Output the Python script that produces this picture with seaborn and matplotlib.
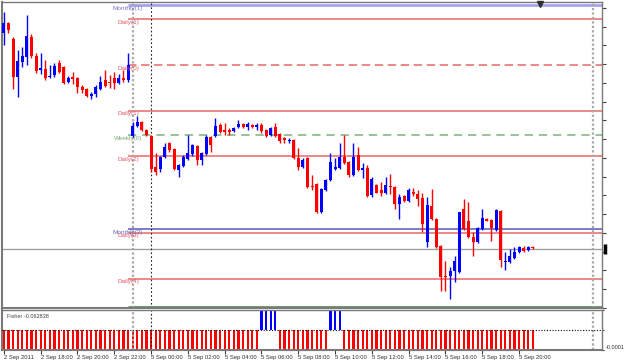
import numpy as np
import pandas as pd
import matplotlib
matplotlib.use("Agg")
import matplotlib.pyplot as plt
import matplotlib.transforms as mtransforms
import seaborn as sns

# ---------------- data ----------------
open_ = [1.4267, 1.4277, 1.4261, 1.4223, 1.4238, 1.4243, 1.4263, 1.4244, 1.4230, 1.4231,
         1.4223, 1.4225, 1.4237, 1.4233, 1.4218, 1.4223, 1.4222, 1.4213, 1.4211, 1.4204,
         1.4206, 1.4211, 1.4220, 1.4218, 1.4222, 1.4217, 1.4222, 1.4220, 1.4164, 1.4174,
         1.4178, 1.4170, 1.4164, 1.4133, 1.4131, 1.4143, 1.4157, 1.4151, 1.4130, 1.4134,
         1.4141, 1.4146, 1.4154, 1.4140, 1.4146, 1.4163, 1.4164, 1.4175, 1.4170, 1.4170,
         1.4169, 1.4173, 1.4176, 1.4173, 1.4175, 1.4173, 1.4175, 1.4170, 1.4165, 1.4173,
         1.4166, 1.4162, 1.4159, 1.4160, 1.4142, 1.4133, 1.4142, 1.4114, 1.4116, 1.4087,
         1.4110, 1.4120, 1.4131, 1.4132, 1.4143, 1.4138, 1.4125, 1.4145, 1.4130, 1.4132,
         1.4104, 1.4115, 1.4110, 1.4107, 1.4114, 1.4113, 1.4095, 1.4103, 1.4098, 1.4108,
         1.4105, 1.4101, 1.4057, 1.4093, 1.4080, 1.4053, 1.4023, 1.4023, 1.4028, 1.4027,
         1.4090, 1.4078, 1.4062, 1.4057, 1.4070, 1.4080, 1.4079, 1.4069, 1.4088, 1.4037,
         1.4037, 1.4041, 1.4047, 1.4051, 1.4049, 1.4052]
high = [1.4288, 1.4278, 1.4263, 1.4250, 1.4253, 1.4285, 1.4266, 1.4247, 1.4247, 1.4240,
        1.4235, 1.4237, 1.4240, 1.4234, 1.4224, 1.4228, 1.4223, 1.4215, 1.4212, 1.4208,
        1.4215, 1.4224, 1.4230, 1.4225, 1.4228, 1.4226, 1.4230, 1.4247, 1.4178, 1.4184,
        1.4179, 1.4171, 1.4165, 1.4147, 1.4144, 1.4157, 1.4158, 1.4152, 1.4136, 1.4145,
        1.4165, 1.4156, 1.4155, 1.4148, 1.4165, 1.4164, 1.4182, 1.4177, 1.4177, 1.4172,
        1.4173, 1.4180, 1.4177, 1.4178, 1.4176, 1.4177, 1.4177, 1.4171, 1.4173, 1.4177,
        1.4167, 1.4163, 1.4162, 1.4161, 1.4152, 1.4142, 1.4143, 1.4125, 1.4117, 1.4112,
        1.4121, 1.4147, 1.4142, 1.4157, 1.4165, 1.4139, 1.4157, 1.4153, 1.4137, 1.4135,
        1.4123, 1.4116, 1.4118, 1.4123, 1.4126, 1.4114, 1.4105, 1.4104, 1.4112, 1.4112,
        1.4110, 1.4107, 1.4102, 1.4111, 1.4081, 1.4054, 1.4038, 1.4032, 1.4043, 1.4087,
        1.4100, 1.4097, 1.4067, 1.4072, 1.4090, 1.4081, 1.4080, 1.4090, 1.4089, 1.4047,
        1.4050, 1.4052, 1.4053, 1.4053, 1.4053, 1.4053]
low = [1.4255, 1.4267, 1.4211, 1.4203, 1.4233, 1.4235, 1.4242, 1.4227, 1.4226, 1.4220,
       1.4222, 1.4223, 1.4227, 1.4216, 1.4217, 1.4216, 1.4207, 1.4207, 1.4203, 1.4201,
       1.4203, 1.4210, 1.4213, 1.4212, 1.4211, 1.4216, 1.4218, 1.4218, 1.4163, 1.4173,
       1.4169, 1.4164, 1.4128, 1.4125, 1.4128, 1.4142, 1.4148, 1.4130, 1.4123, 1.4133,
       1.4140, 1.4144, 1.4135, 1.4135, 1.4145, 1.4148, 1.4163, 1.4167, 1.4165, 1.4165,
       1.4168, 1.4172, 1.4172, 1.4170, 1.4172, 1.4170, 1.4167, 1.4163, 1.4164, 1.4163,
       1.4157, 1.4157, 1.4157, 1.4141, 1.4130, 1.4132, 1.4112, 1.4110, 1.4086, 1.4086,
       1.4109, 1.4119, 1.4130, 1.4131, 1.4136, 1.4123, 1.4124, 1.4129, 1.4122, 1.4102,
       1.4102, 1.4106, 1.4103, 1.4105, 1.4105, 1.4090, 1.4080, 1.4097, 1.4097, 1.4103,
       1.4093, 1.4067, 1.4052, 1.4079, 1.4051, 1.4008, 1.4008, 1.4000, 1.4017, 1.4026,
       1.4069, 1.4061, 1.4043, 1.4056, 1.4069, 1.4078, 1.4058, 1.4068, 1.4032, 1.4029,
       1.4036, 1.4040, 1.4046, 1.4047, 1.4048, 1.4050]
close = [1.4277, 1.4270, 1.4223, 1.4239, 1.4244, 1.4264, 1.4244, 1.4229, 1.4232, 1.4222,
         1.4224, 1.4234, 1.4228, 1.4217, 1.4222, 1.4221, 1.4213, 1.4210, 1.4204, 1.4206,
         1.4213, 1.4218, 1.4214, 1.4217, 1.4217, 1.4222, 1.4220, 1.4235, 1.4174, 1.4178,
         1.4170, 1.4165, 1.4131, 1.4128, 1.4143, 1.4153, 1.4150, 1.4131, 1.4135, 1.4143,
         1.4147, 1.4155, 1.4140, 1.4147, 1.4163, 1.4155, 1.4174, 1.4168, 1.4168, 1.4168,
         1.4172, 1.4176, 1.4173, 1.4176, 1.4173, 1.4175, 1.4169, 1.4164, 1.4172, 1.4164,
         1.4159, 1.4160, 1.4160, 1.4142, 1.4133, 1.4140, 1.4113, 1.4113, 1.4087, 1.4111,
         1.4120, 1.4138, 1.4133, 1.4143, 1.4137, 1.4125, 1.4143, 1.4130, 1.4132, 1.4103,
         1.4121, 1.4107, 1.4107, 1.4115, 1.4113, 1.4095, 1.4102, 1.4098, 1.4110, 1.4105,
         1.4100, 1.4075, 1.4094, 1.4080, 1.4052, 1.4022, 1.4022, 1.4028, 1.4038, 1.4087,
         1.4070, 1.4062, 1.4057, 1.4071, 1.4081, 1.4078, 1.4071, 1.4089, 1.4039, 1.4038,
         1.4043, 1.4047, 1.4052, 1.4048, 1.4052, 1.4051]

level_names = ["Monthly(1)", "Daily(1)", "Daily(0)", "Daily(1)", "Weekly(0)",
               "Daily(2)", "Monthly(2)", "Daily(3)", "Daily(4)"]
level_prices = [1.42945, 1.42805, 1.42345, 1.4189, 1.41643,
                1.41435, 1.40705, 1.40665, 1.40205]
level_kinds = ["monthly_top", "daily", "daily_dash", "daily", "weekly",
               "daily", "monthly", "daily", "daily"]
bid_price = 1.40505
bottom_level = 1.39925

fisher = [-0.0001, -0.0001, -0.0001, -0.0001, -0.0001, -0.0001, -0.0001, -0.0001, -0.0001, -0.0001,
          -0.0001, -0.0001, -0.0001, -0.0001, -0.0001, -0.0001, -0.0001, -0.0001, -0.0001, -0.0001,
          -0.0001, -0.0001, -0.0001, -0.0001, -0.0001, -0.0001, -0.0001, -0.0001, -0.0001, -0.0001,
          -0.0001, -0.0001, -0.0001, -0.0001, -0.0001, -0.0001, -0.0001, -0.0001, -0.0001, -0.0001,
          -0.0001, -0.0001, -0.0001, -0.0001, -0.0001, -0.0001, -0.0001, -0.0001, -0.0001, -0.0001,
          -0.0001, -0.0001, -0.0001, -0.0001, -0.0001, -0.0001, 0.0001, 0.0001, 0.0001, 0.0001,
          -0.0001, -0.0001, -0.0001, -0.0001, -0.0001, -0.0001, -0.0001, -0.0001, -0.0001, -0.0001,
          -0.0001, 0.0001, 0.0001, 0.0001, -0.0001, -0.0001, -0.0001, -0.0001, -0.0001, -0.0001,
          -0.0001, -0.0001, -0.0001, -0.0001, -0.0001, -0.0001, -0.0001, -0.0001, -0.0001, -0.0001,
          -0.0001, -0.0001, -0.0001, -0.0001, -0.0001, -0.0001, -0.0001, -0.0001, -0.0001, -0.0001,
          -0.0001, -0.0001, -0.0001, -0.0001, -0.0001, -0.0001, -0.0001, -0.0001, -0.0001, -0.0001,
          -0.0001, -0.0001, -0.0001, -0.0001, -0.0001, -0.0001]
fisher_label = "Fisher -0.062838"

tick_pos = [0, 8, 16, 24, 32, 40, 48, 56, 64, 72, 80, 88, 96, 104, 112]
tick_labels = ["2 Sep 2011", "2 Sep 18:00", "2 Sep 20:00", "2 Sep 22:00", "5 Sep 00:00",
               "5 Sep 02:00", "5 Sep 04:00", "5 Sep 06:00", "5 Sep 08:00", "5 Sep 10:00",
               "5 Sep 12:00", "5 Sep 14:00", "5 Sep 16:00", "5 Sep 18:00", "5 Sep 20:00"]
level_start = 27
session_line = 28
day_separator = 32

# ---------------- style ----------------
sns.set_style("white")
plt.rcParams["font.family"] = ["Liberation Sans", "DejaVu Sans"]

RED = "#ff0000"
BLUE = "#0000ff"
LRED = "#e86868"

df = pd.DataFrame({"open": open_, "high": high, "low": low, "close": close})
df["idx"] = np.arange(len(df))
df["up"] = df["close"] >= df["open"]

fig = plt.figure(figsize=(6.25, 3.62), dpi=100, facecolor="white")
W, H = 625.0, 362.0
ax = fig.add_axes([2 / W, 1 - 308 / H, 600 / W, 306 / H])
ax2 = fig.add_axes([2 / W, 1 - 350 / H, 600 / W, 40 / H])

xlim = (-0.4, 130.03)

# ---- horizontal levels ----
styles = {
    "monthly_top": dict(color="#a4a4ee", lw=2.0, ls="-"),
    "daily": dict(color=LRED, lw=1.1, ls="-"),
    "daily_dash": dict(color=LRED, lw=1.1, ls=(0, (5.5, 3))),
    "weekly": dict(color="#88b888", lw=1.2, ls=(0, (5, 3.5))),
    "monthly": dict(color="#5858b8", lw=1.1, ls="-"),
}
text_colors = {"monthly_top": "#7878c8", "daily": "#e85a6a", "daily_dash": "#e85a6a",
               "weekly": "#78a878", "monthly": "#6a6ac8"}
for name, price, kind in zip(level_names, level_prices, level_kinds):
    ax.hlines(price, level_start, xlim[1], zorder=1, **styles[kind])
    ax.text(level_start, price - 0.00006, name, ha="center", va="top", fontsize=4.6,
            color=text_colors[kind], zorder=5)

ax.axhline(bid_price, color="#a0a0a0", lw=1.0, zorder=1)
ax.hlines(bottom_level, level_start, xlim[1], color="#6e9e6e", lw=2.2, zorder=1)

# ---- candles ----
colors = np.where(df["up"], BLUE, RED)
ax.vlines(df["idx"], df["low"], df["high"], colors=colors, lw=1.0, zorder=3)
body = np.maximum((df["close"] - df["open"]).abs(), 0.00008)
ax.bar(df["idx"], body, bottom=np.minimum(df["open"], df["close"]), width=0.66,
       color=colors, linewidth=0, zorder=4)

ax.set_xlim(*xlim)
ax.set_ylim(1.39915, 1.4298)

# vertical markers
for a in (ax, ax2):
    a.axvline(session_line, color="#a8a8a8", lw=1.6, ls=(0, (1, 1)), zorder=2)
    a.axvline(day_separator, color="#202020", lw=0.8, ls=(0, (1.5, 2)), zorder=2)
    a.plot([0.985, 0.985], [0, 1], transform=a.transAxes, color="#a8a8a8", lw=1.6,
           ls=(0, (1, 1)), zorder=2)

# right price ticks (labels hidden in reference)
ax.yaxis.tick_right()
ax.set_yticks(np.arange(1.4292, 1.3990, -0.00188))
ax.set_yticklabels([])
ax.tick_params(axis="y", right=True, length=3, width=0.8, color="#404040", direction="out")
ax.tick_params(axis="x", bottom=False, labelbottom=False)
ax.set_xticks([])

# chart shift marker and price marker
ax.plot([0.8967], [0.992], marker="v", color="#303030", markersize=4,
        transform=ax.transAxes, clip_on=False, zorder=6)
tr = mtransforms.blended_transform_factory(ax.transAxes, ax.transData)
ax.plot([1.005], [bid_price], marker="|", color="black", markersize=7, mew=2.5,
        transform=tr, clip_on=False, zorder=6)

for s, sp in ax.spines.items():
    sp.set_visible(True)
    sp.set_color("#7a7a7a")
    sp.set_linewidth(1.5 if s in ("left", "bottom") else 1.0)

# ---- lower panel (Fisher) ----
df2 = pd.DataFrame({"idx": np.arange(len(fisher)), "fisher": fisher})
df2["dir"] = np.where(df2["fisher"] > 0, "up", "down")
sns.barplot(data=df2, x="idx", y="fisher", hue="dir", palette={"up": BLUE, "down": RED},
            native_scale=True, width=0.48, dodge=False, legend=False, errorbar=None,
            saturation=1, linewidth=0, ax=ax2)
ax2.axhline(0, color="#101010", lw=0.8, ls=(0, (1, 1.5)), zorder=5)
ax2.set_xlim(*xlim)
ax2.set_ylim(-0.0001, 0.0001)
ax2.set_xlabel("")
ax2.set_ylabel("")
ax2.text(0.008, 0.85, fisher_label, transform=ax2.transAxes, fontsize=4.0,
         color="#404040", ha="left", va="center")

ax2.yaxis.tick_right()
ax2.set_yticks([-0.0001, 0, 0.0001])
ax2.set_yticklabels(["-0.0001", "", ""])
ax2.tick_params(axis="y", right=True, length=1.5, width=0.8, color="#404040",
                labelsize=4.0, labelcolor="#303030", pad=1, direction="out")
for lab in ax2.get_yticklabels():
    lab.set_va("bottom")

ax2.set_xticks(tick_pos)
ax2.set_xticklabels(tick_labels)
ax2.tick_params(axis="x", bottom=True, length=3, width=0.8, color="#404040",
                labelsize=4.2, labelcolor="#303030", pad=0.5, direction="out")
for lab in ax2.get_xticklabels():
    lab.set_ha("left")

for s, sp in ax2.spines.items():
    sp.set_visible(True)
    sp.set_color("#7a7a7a")
    sp.set_linewidth(1.5 if s in ("left", "bottom") else 1.0)

fig.savefig("out.png", dpi=100, facecolor="white")
